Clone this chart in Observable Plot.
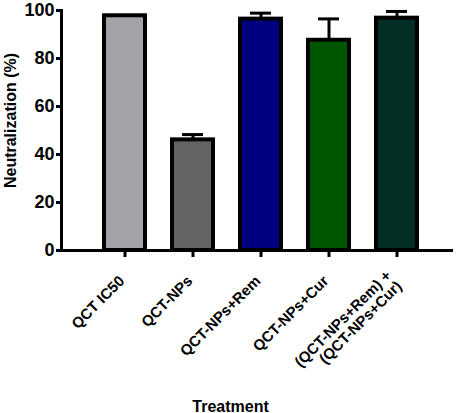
<!DOCTYPE html>
<html>
<head>
<meta charset="utf-8">
<script src="https://cdn.jsdelivr.net/npm/d3@7"></script>
<script src="https://cdn.jsdelivr.net/npm/@observablehq/plot@0.6"></script>
<style>
  body { margin: 0; background: #fff; }
  #chart svg { display: block; }
</style>
</head>
<body>
<div id="chart"></div>
<script>
const treatments = ['QCT IC50', 'QCT-NPs', 'QCT-NPs+Rem', 'QCT-NPs+Cur', '(QCT-NPs+Rem) +\n(QCT-NPs+Cur)']
const means = [97.8, 46.1, 96.4, 87.6, 96.8]
const errs = [null, 2.2, 2.5, 8.9, 2.8]
const colors = ['#a3a2a7', '#646464', '#000080', '#005700', '#022e26']
const yTicks = [0, 20, 40, 60, 80, 100]

const data = treatments.map((t, i) => ({treatment: t, mean: means[i], err: errs[i]}))
const withErr = data.filter(d => d.err != null)

let chart = Plot.plot({
  width: 457,
  height: 413,
  marginLeft: 61,
  marginRight: 4,
  marginTop: 10,
  marginBottom: 163,
  style: {fontFamily: '"Liberation Sans", Arial, sans-serif', fontWeight: 'bold', background: '#fff'},
  x: {domain: treatments, range: [90.5, 430.5], paddingInner: 0.4, paddingOuter: 0.2},
  y: {domain: [0, 100]},
  color: {domain: treatments, range: colors},
  marks: [
    Plot.barY(data, {x: 'treatment', y: 'mean', fill: 'treatment', stroke: '#000', strokeWidth: 4}),
    Plot.ruleX(withErr, {x: 'treatment', y1: 'mean', y2: d => d.mean + d.err, stroke: '#000', strokeWidth: 3}),
    Plot.tickY(withErr, {x: 'treatment', y: d => d.mean + d.err, stroke: '#000', strokeWidth: 3, insetLeft: 10, insetRight: 10}),
    Plot.frame({anchor: 'left', strokeWidth: 3}),
    Plot.ruleY([0], {strokeWidth: 3}),
    Plot.axisY({ticks: yTicks, tickSize: 5, tickPadding: 2, strokeWidth: 3, fontSize: 18, fontWeight: 'bold', label: null}),
    Plot.text(['Neutralization (%)'], {frameAnchor: 'left', textAnchor: 'middle', lineAnchor: 'middle', rotate: -90, dx: -51, dy: -10, fontSize: 16, fontWeight: 'bold'}),
    // ticks and rotated labels drawn separately so the labels can be nudged
    Plot.axisX({tickSize: 7, strokeWidth: 3, tickFormat: () => '', label: null}),
    Plot.axisX({tickSize: 0, tickRotate: -45, tickPadding: 28, dx: -3, fontSize: 15, fontWeight: 'bold', label: null}),
    Plot.text(['Treatment'], {frameAnchor: 'bottom', dx: -27, dy: 161, fontSize: 16, fontWeight: 'bold'})
  ]
})
d3.select('#chart').append(() => chart)
</script>
</body>
</html>
